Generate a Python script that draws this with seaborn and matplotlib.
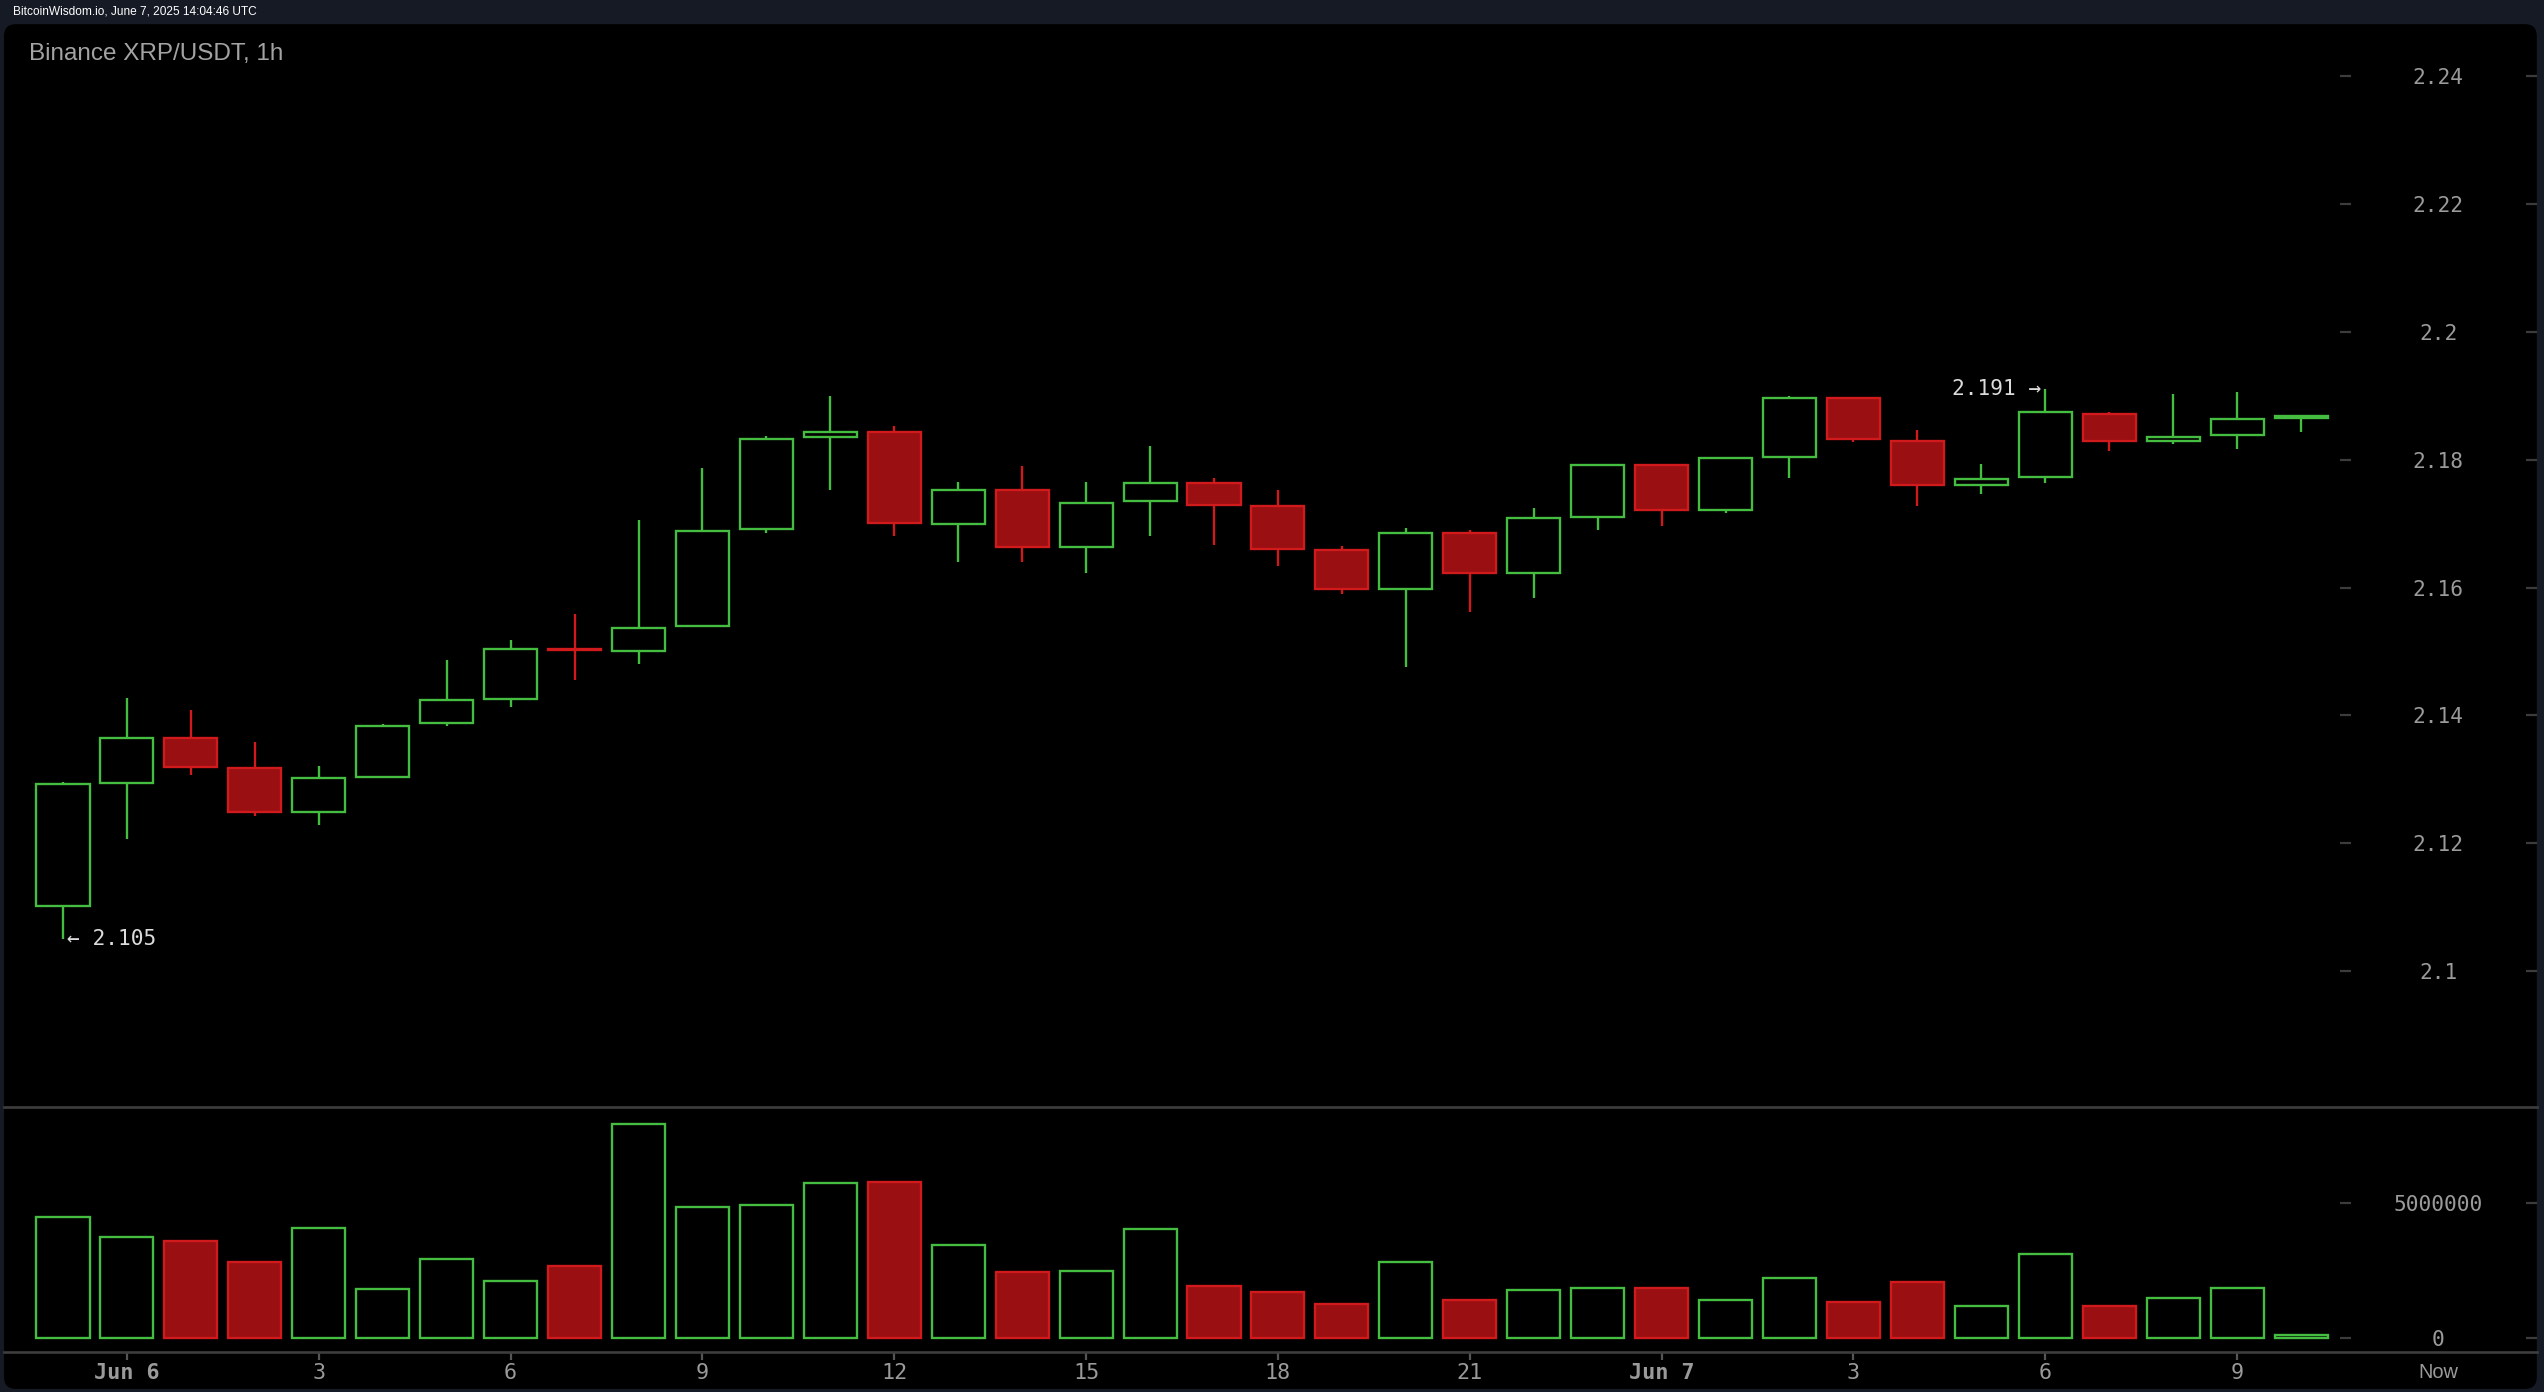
import numpy as np
import pandas as pd
import matplotlib
matplotlib.use("Agg")
import matplotlib.pyplot as plt
import seaborn as sns
from matplotlib.patches import FancyBboxPatch

# hourly candles, first one is Jun 5 23:00
hours = list(range(36))
opens = [2.1101, 2.1294, 2.1364, 2.1317, 2.1248, 2.1304, 2.1388, 2.1426, 2.1504, 2.1501,
         2.1539, 2.1692, 2.1836, 2.1843, 2.1700, 2.1752, 2.1663, 2.1735, 2.1764, 2.1727,
         2.1658, 2.1597, 2.1686, 2.1622, 2.1711, 2.1792, 2.1722, 2.1804, 2.1896, 2.1830,
         2.1760, 2.1773, 2.1871, 2.1829, 2.1838, 2.1866]
highs = [2.1296, 2.1427, 2.1409, 2.1359, 2.1321, 2.1387, 2.1487, 2.1518, 2.1559, 2.1706,
         2.1787, 2.1837, 2.1900, 2.1853, 2.1765, 2.1790, 2.1765, 2.1822, 2.1771, 2.1753,
         2.1665, 2.1693, 2.1690, 2.1724, 2.1792, 2.1792, 2.1802, 2.1900, 2.1896, 2.1847,
         2.1793, 2.1910, 2.1875, 2.1903, 2.1906, 2.1867]
lows = [2.1050, 2.1206, 2.1306, 2.1243, 2.1228, 2.1304, 2.1384, 2.1413, 2.1456, 2.1481,
        2.1539, 2.1685, 2.1753, 2.1681, 2.1640, 2.1640, 2.1622, 2.1681, 2.1666, 2.1634,
        2.1590, 2.1475, 2.1562, 2.1584, 2.1690, 2.1697, 2.1716, 2.1772, 2.1828, 2.1728,
        2.1747, 2.1763, 2.1813, 2.1825, 2.1816, 2.1844]
closes = [2.1292, 2.1364, 2.1319, 2.1248, 2.1302, 2.1383, 2.1424, 2.1504, 2.1502, 2.1536,
          2.1689, 2.1833, 2.1843, 2.1701, 2.1752, 2.1663, 2.1733, 2.1764, 2.1729, 2.1660,
          2.1597, 2.1686, 2.1622, 2.1708, 2.1792, 2.1722, 2.1802, 2.1896, 2.1832, 2.1760,
          2.1770, 2.1874, 2.1829, 2.1836, 2.1864, 2.1867]
volumes = [4.48e6, 3.74e6, 3.60e6, 2.79e6, 4.05e6, 1.81e6, 2.93e6, 2.11e6, 2.64e6, 7.90e6,
           4.85e6, 4.93e6, 5.74e6, 5.75e6, 3.44e6, 2.42e6, 2.48e6, 4.04e6, 1.90e6, 1.68e6,
           1.23e6, 2.79e6, 1.38e6, 1.75e6, 1.83e6, 1.83e6, 1.38e6, 2.20e6, 1.31e6, 2.05e6,
           1.16e6, 3.09e6, 1.16e6, 1.46e6, 1.83e6, 0.10e6]

tick_pos = [1, 4, 7, 10, 13, 16, 19, 22, 25, 28, 31, 34]
tick_lab = ["Jun 6", "3", "6", "9", "12", "15", "18", "21", "Jun 7", "3", "6", "9"]
now_pos = 37.14
price_ticks = [2.10, 2.12, 2.14, 2.16, 2.18, 2.20, 2.22, 2.24]
vol_ticks = [0, 5000000]

GREEN = "#44bd41"
RED = "#d01a1c"
RED_FILL = "#990f12"
LABEL = "#9a9a9a"
TICK = "#3c3c3c"
BODY_W = 0.83
LW = 1.05

sns.set_theme(style="dark")
plt.rcParams["font.family"] = ["Liberation Sans", "DejaVu Sans"]

df = pd.DataFrame({"hour": hours, "open": opens, "high": highs, "low": lows,
                   "close": closes, "volume": volumes})
df["up"] = df["close"] >= df["open"]
df["bottom"] = df[["open", "close"]].min(axis=1)
df["body"] = (df["close"] - df["open"]).abs().clip(lower=0.0002)

fig = plt.figure(figsize=(15.9, 8.7), dpi=160, facecolor="#161a25")
panel = FancyBboxPatch((0.025, 0.019), 15.83, 8.53,
                       boxstyle="round,pad=0,rounding_size=0.075",
                       transform=fig.dpi_scale_trans, facecolor="black",
                       edgecolor="none", zorder=-10)
fig.patches.append(panel)

axp = fig.add_axes([0.00157, 0.20496, 0.99568, 0.77758])
axv = fig.add_axes([0.00157, 0.02909, 0.99568, 0.17587], sharex=axp)
for ax in (axp, axv):
    ax.set_facecolor("none")
    ax.grid(False)
    for s in ax.spines.values():
        s.set_visible(False)

# candles
edge = np.where(df["up"], GREEN, RED)
face = np.where(df["up"], "black", RED_FILL)
axp.vlines(df["hour"], df["low"], df["high"], colors=edge, lw=LW, zorder=2)
axp.bar(df["hour"], df["body"], bottom=df["bottom"], width=BODY_W, color=face,
        edgecolor=edge, linewidth=LW, zorder=3)

lo = df.loc[df["low"].idxmin()]
hi = df.loc[df["high"].idxmax()]
axp.annotate(f"\u2190 {lo['low']:.3f}", (lo["hour"], lo["low"]), xytext=(2, 0),
             textcoords="offset points", ha="left", va="center", fontsize=9.5,
             color="#dcdcdc", family="DejaVu Sans Mono")
axp.annotate(f"{hi['high']:.3f} \u2192", (hi["hour"], hi["high"]), xytext=(-2, 0),
             textcoords="offset points", ha="right", va="center", fontsize=9.5,
             color="#dcdcdc", family="DejaVu Sans Mono")

# volume
sns.barplot(data=df[df["up"]], x="hour", y="volume", native_scale=True, width=BODY_W,
            fill=False, color=GREEN, saturation=1, linewidth=LW, errorbar=None, ax=axv)
sns.barplot(data=df[~df["up"]], x="hour", y="volume", native_scale=True, width=BODY_W,
            color=RED_FILL, edgecolor=RED, saturation=1, linewidth=LW, errorbar=None, ax=axv)
axv.set_xlabel("")
axv.set_ylabel("")
for s in ("top", "bottom"):
    axv.spines[s].set_visible(True)
    axv.spines[s].set_color("#3d3d3d")
    axv.spines[s].set_linewidth(1.2)

axp.set_xlim(-0.923, 38.69)
axp.set_ylim(2.07876, 2.24813)
axv.set_ylim(-0.511e6, 8.556e6)

# right side price / volume scales
for ax, ticks, labels in ((axp, price_ticks, [f"{t:g}" for t in price_ticks]),
                          (axv, vol_ticks, [str(t) for t in vol_ticks])):
    ax.set_yticks(ticks)
    ax.set_yticklabels(labels)
    ax.tick_params(axis="y", which="major", left=False, labelleft=False, right=True,
                   labelright=True, direction="in", length=5, width=1, color=TICK,
                   pad=-44.5, labelsize=9.5, labelcolor=LABEL,
                   labelfontfamily="DejaVu Sans Mono")
    for t in ax.yaxis.get_major_ticks():
        t.label2.set_ha("center")
    sec = ax.secondary_yaxis(0.9266)
    sec.set_yticks(ticks)
    sec.tick_params(axis="y", direction="in", length=5, width=1, color=TICK,
                    labelright=False, labelleft=False)
    for s in sec.spines.values():
        s.set_visible(False)

axp.tick_params(axis="x", bottom=False, labelbottom=False)
axv.set_xticks(tick_pos + [now_pos])
axv.set_xticklabels(tick_lab + ["Now"])
axv.tick_params(axis="x", bottom=True, direction="out", length=3.5, width=1, color="#555555",
                pad=1.5, labelsize=9.8, labelcolor=LABEL, labelfontfamily="DejaVu Sans Mono")
for t in axv.xaxis.get_major_ticks():
    txt = t.label1.get_text()
    if txt.startswith("Jun"):
        t.label1.set_fontweight("bold")
    if txt == "Now":
        t.tick1line.set_visible(False)
        t.label1.set_family(["Liberation Sans", "DejaVu Sans"])
        t.label1.set_fontsize(9)

fig.text(0.0051, 0.9914, "BitcoinWisdom.io, June 7, 2025 14:04:46 UTC", fontsize=5.35,
         color="white", ha="left", va="center")
fig.text(0.01148, 0.9615, "Binance XRP/USDT, 1h", fontsize=10.9, color="#a3a3a3",
         ha="left", va="center")

fig.savefig("out.png", dpi=160, facecolor=fig.get_facecolor())
